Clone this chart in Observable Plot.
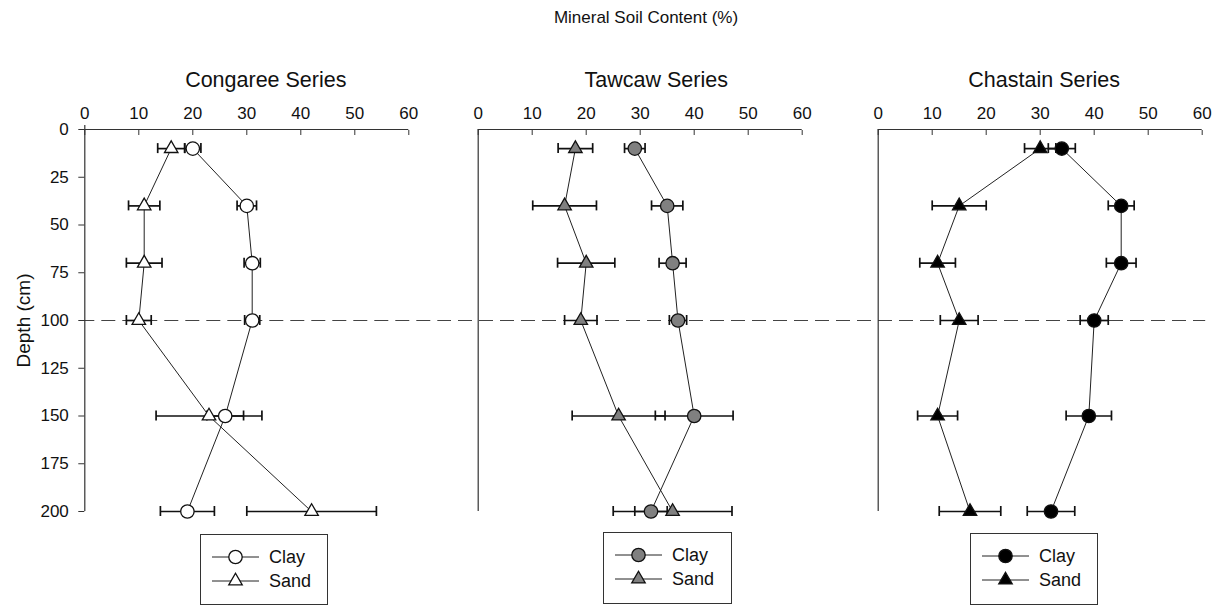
<!DOCTYPE html>
<html>
<head>
<meta charset="utf-8">
<script src="https://cdn.jsdelivr.net/npm/d3@7"></script>
<script src="https://cdn.jsdelivr.net/npm/@observablehq/plot@0.6"></script>
<style>
  body { margin: 0; background: #fff; font-family: "Liberation Sans", Arial, sans-serif; }
  #wrap { position: relative; width: 1222px; height: 609px; overflow: hidden; background: #fff; }
  .panel { position: absolute; top: 0; }
  #title { position: absolute; top: 8px; left: 646px; transform: translateX(-50%); font-size: 17px; white-space: nowrap; color: #111; }
  .legend { position: absolute; border: 1.5px solid #333; box-sizing: border-box; background: #fff; }
  .legend .lab { position: absolute; font-size: 18px; color: #111; line-height: 22px; white-space: nowrap; }
</style>
</head>
<body>
<div id="wrap">
  <div id="title">Mineral Soil Content (%)</div>
</div>
<script>
// ---- data ----
const depths = [10, 40, 70, 100, 150, 200];
const properties = ["Clay", "Sand"];
const xTicks = [0, 10, 20, 30, 40, 50, 60];
const yTicks = [0, 25, 50, 75, 100, 125, 150, 175, 200];
const refDepth = [100];

const congareeClay    = [20, 30, 31, 31, 26, 19];
const congareeClayErr = [1.5, 1.8, 1.5, 1.4, 3.4, 5.0];
const congareeSand    = [16, 11, 11, 10, 23, 42];
const congareeSandErr = [2.5, 2.9, 3.3, 2.3, 9.8, 12.0];

const tawcawClay    = [29, 35, 36, 37, 40, 32];
const tawcawClayErr = [1.9, 2.9, 2.5, 1.6, 7.2, 3.0];
const tawcawSand    = [18, 16, 20, 19, 26, 36];
const tawcawSandErr = [3.2, 5.9, 5.3, 3.0, 8.6, 11.0];

const chastainClay    = [34, 45, 45, 40, 39, 32];
const chastainClayErr = [2.5, 2.4, 2.75, 2.6, 4.2, 4.4];
const chastainSand    = [30, 15, 11, 15, 11, 17];
const chastainSandErr = [2.9, 5.0, 3.3, 3.5, 3.7, 5.7];

const seriesTitles = ["Congaree Series", "Tawcaw Series", "Chastain Series"];
const markerFills = ["#ffffff", "#808080", "#000000"];

// ---- layout / style per panel ----
const panels = [
  { title: seriesTitles[0], clay: congareeClay, clayErr: congareeClayErr, sand: congareeSand, sandErr: congareeSandErr,
    fill: markerFills[0], left: 0, width: 440, ml: 84.3, mr: 31.7, titleDx: 19, dashL: -4, dashR: -32, dashOff: 0, first: true,
    legend: { left: 200, top: 534, width: 128, height: 71 } },
  { title: seriesTitles[1], clay: tawcawClay, clayErr: tawcawClayErr, sand: tawcawSand, sandErr: tawcawSandErr,
    fill: markerFills[1], left: 440, width: 400, ml: 37.7, mr: 38.3, titleDx: 16, dashL: -37.7, dashR: -38.3, dashOff: 3, first: false,
    legend: { left: 603, top: 532, width: 129, height: 72 } },
  { title: seriesTitles[2], clay: chastainClay, clayErr: chastainClayErr, sand: chastainSand, sandErr: chastainSandErr,
    fill: markerFills[2], left: 840, width: 382, ml: 37.7, mr: 20.3, titleDx: 4, dashL: -37.7, dashR: -3.5, dashOff: 4, first: false,
    legend: { left: 970, top: 533, width: 128, height: 72 } }
];

const ink = "#111";
const axisInk = "#333";
const CLAY_R = 6.7, SAND_R = 5;

const wrap = document.getElementById("wrap");

panels.forEach(p => {
  const rows = [];
  depths.forEach((d, i) => {
    rows.push({ depth: d, prop: "Clay", value: p.clay[i], err: p.clayErr[i] });
  });
  depths.forEach((d, i) => {
    rows.push({ depth: d, prop: "Sand", value: p.sand[i], err: p.sandErr[i] });
  });
  const clayRows = rows.filter(r => r.prop === "Clay");
  const sandRows = rows.filter(r => r.prop === "Sand");

  const chart = Plot.plot({
    width: p.width,
    height: 530,
    marginTop: 129,
    marginBottom: 19,
    marginLeft: p.ml,
    marginRight: p.mr,
    x: { domain: [0, 60] },
    y: { domain: [0, 200], reverse: true, ...(p.first ? {} : { axis: null }) },
    style: { fontFamily: '"Liberation Sans", Arial, sans-serif', fontSize: "17px", color: ink, background: "transparent", overflow: "visible" },
    marks: [
      Plot.ruleY(refDepth, { stroke: "#444", strokeWidth: 1, strokeDasharray: "14,7", strokeDashoffset: p.dashOff, insetLeft: p.dashL, insetRight: p.dashR }),
      Plot.ruleY([0], { stroke: axisInk, strokeWidth: 1.2 }),
      Plot.ruleX([0], { stroke: axisInk, strokeWidth: 1.2, insetTop: p.first ? -4 : 0 }),
      Plot.axisX({ anchor: "top", ticks: xTicks, tickSize: -5, fill: "none", stroke: axisInk, label: null }),
      Plot.axisX({ anchor: "top", ticks: xTicks, tickSize: 0, tickPadding: 11, label: null, fontSize: 17 }),
      p.first ? Plot.axisY({ ticks: yTicks, tickSize: 6, tickPadding: 10, label: null, fontSize: 17, stroke: axisInk }) : null,
      p.first ? Plot.text(["Depth (cm)"], { frameAnchor: "left", textAnchor: "middle", rotate: -90, dx: -61, fontSize: 19, fill: ink }) : null,
      Plot.text([p.title], { frameAnchor: "top", dy: -58, dx: p.titleDx, fontSize: 21.5, fill: ink }),
      Plot.line(clayRows, { x: "value", y: "depth", stroke: "#222", strokeWidth: 1 }),
      Plot.line(sandRows, { x: "value", y: "depth", stroke: "#222", strokeWidth: 1 }),
      Plot.link(rows, { x1: d => d.value - d.err, x2: d => d.value + d.err, y1: "depth", y2: "depth", stroke: ink, strokeWidth: 1.7 }),
      Plot.ruleX(rows, { x: d => d.value - d.err, y1: "depth", y2: "depth", insetTop: -5, insetBottom: -5, stroke: ink, strokeWidth: 1.7 }),
      Plot.ruleX(rows, { x: d => d.value + d.err, y1: "depth", y2: "depth", insetTop: -5, insetBottom: -5, stroke: ink, strokeWidth: 1.7 }),
      Plot.dot(sandRows, { x: "value", y: "depth", symbol: "triangle", r: SAND_R, fill: p.fill, stroke: ink, strokeWidth: 1.3 }),
      Plot.dot(clayRows, { x: "value", y: "depth", symbol: "circle", r: CLAY_R, fill: p.fill, stroke: ink, strokeWidth: 1.3 })
    ]
  });
  chart.classList.add("panel");
  chart.style.left = p.left + "px";
  wrap.appendChild(chart);

  // legend
  const box = document.createElement("div");
  box.className = "legend";
  Object.assign(box.style, {
    left: p.legend.left + "px", top: p.legend.top + "px",
    width: p.legend.width + "px", height: p.legend.height + "px"
  });
  properties.forEach((prop, i) => {
    const cy = i === 0 ? 22 : 46;
    const svg = d3.create("svg").attr("width", 60).attr("height", 22)
      .style("position", "absolute").style("left", "9px").style("top", (cy - 11) + "px");
    svg.append("line").attr("x1", 2).attr("x2", 49).attr("y1", 11).attr("y2", 11).attr("stroke", "#222").attr("stroke-width", 1);
    const sym = prop === "Clay" ? d3.symbolCircle : d3.symbolTriangle;
    const r = prop === "Clay" ? CLAY_R : SAND_R;
    svg.append("path").attr("d", d3.symbol(sym, Math.PI * r * r)())
      .attr("transform", "translate(25.5,11)")
      .attr("fill", p.fill).attr("stroke", ink).attr("stroke-width", 1.3);
    box.appendChild(svg.node());
    const lab = document.createElement("div");
    lab.className = "lab";
    lab.textContent = prop;
    lab.style.left = "68px";
    lab.style.top = (cy - 11) + "px";
    box.appendChild(lab);
  });
  wrap.appendChild(box);
});
</script>
</body>
</html>
